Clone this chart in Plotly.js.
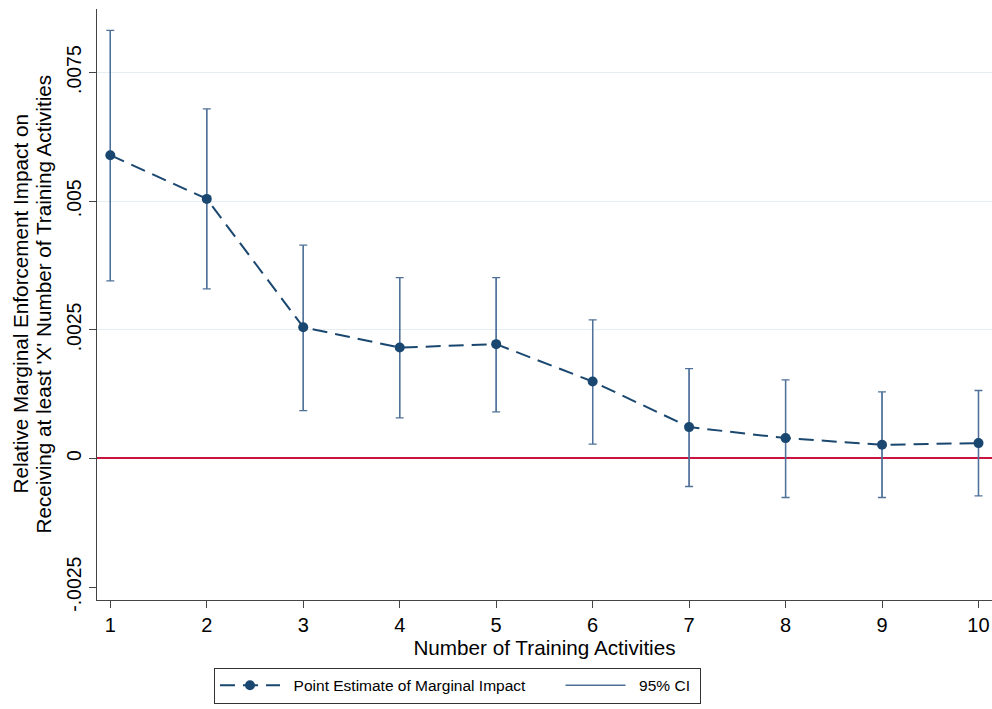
<!DOCTYPE html>
<html>
<head>
<meta charset="utf-8">
<script src="https://cdn.plot.ly/plotly-3.0.1.min.js"></script>
<style>html,body{margin:0;padding:0;background:#fff;}#chart{width:992px;height:709px;}</style>
</head>
<body>
<div id="chart"></div>
<script>
const activities = [1, 2, 3, 4, 5, 6, 7, 8, 9, 10];
const pointEstimate = [0.005894, 0.005045, 0.002552, 0.002156, 0.002222, 0.001496, 0.000610, 0.000396, 0.000266, 0.000299];
const ciUpper = [0.008321, 0.006793, 0.004145, 0.003516, 0.003516, 0.002694, 0.001748, 0.001529, 0.001296, 0.001321];
const ciLower = [0.003452, 0.003297, 0.000932, 0.000791, 0.000907, 0.000280, -0.000544, -0.000758, -0.000758, -0.000725];
const yTickVals = [-0.0025, 0, 0.0025, 0.005, 0.0075];
const yTickText = ['-.0025', '0', '.0025', '.005', '.0075'];
const gridVals = [0.0025, 0.005, 0.0075];
const yTitleLines = ["Relative Marginal Enforcement Impact on", "Receiving at least 'X' Number of Training Activities"];
const seriesNames = ['Point Estimate of Marginal Impact', '95% CI'];

const navy = '#1a476f';
const ciColor = '#4f7199';
const FONT = 'Liberation Sans, Arial, Helvetica, sans-serif';
const sp = n => '\u00a0'.repeat(n);

const ciX = [], ciY = [];
activities.forEach((a, i) => { ciX.push(a, a, null); ciY.push(ciLower[i], ciUpper[i], null); });

const traces = [
  {x: [activities[0]], y: [pointEstimate[0]], yaxis: 'y2', type: 'scatter', mode: 'markers',
   marker: {opacity: 0}, showlegend: false, hoverinfo: 'skip'},
  {
    x: activities, y: pointEstimate, type: 'scatter', mode: 'markers',
    marker: {opacity: 0, size: 1},
    error_y: {type: 'data', symmetric: false,
      array: ciUpper.map((u, i) => u - pointEstimate[i]),
      arrayminus: pointEstimate.map((p, i) => p - ciLower[i]),
      color: ciColor, thickness: 1.3, width: 4},
    showlegend: false, hoverinfo: 'skip'
  },
  {
    x: ciX, y: ciY, type: 'scatter', mode: 'lines', name: sp(2) + seriesNames[1] + sp(1),
    line: {color: ciColor, width: 1.3}, legendrank: 2, connectgaps: false
  },
  {
    x: activities, y: pointEstimate, type: 'scatter', mode: 'lines+markers',
    name: sp(2) + seriesNames[0] + sp(7),
    line: {color: navy, width: 2, dash: '15px,8px'},
    marker: {color: navy, size: 10}, legendrank: 1
  }
];

const plotL = 97, plotW = 895;
const yRange = [-0.00275, 0.008735];
const layout = {
  width: 992, height: 709,
  paper_bgcolor: '#ffffff', plot_bgcolor: '#ffffff',
  font: {family: FONT, size: 20, color: '#000'},
  margin: {l: plotL, r: 0, t: 9, b: 109},
  showlegend: true,
  legend: {
    orientation: 'h', x: (214 - plotL) / plotW, xanchor: 'left', y: -0.1145, yanchor: 'top',
    bordercolor: '#333', borderwidth: 1, bgcolor: '#fff',
    font: {family: FONT, size: 15.5, color: '#000'},
    itemwidth: 60
  },
  xaxis: {
    range: [0.862, 10.14], tickvals: activities, ticks: 'outside', ticklen: 7,
    tickcolor: '#444', showline: true, linecolor: '#444', linewidth: 1.3,
    showgrid: false, zeroline: false,
    tickfont: {family: FONT, size: 20, color: '#000'},
    title: {text: 'Number of Training Activities', font: {family: FONT, size: 20.7, color: '#000'}, standoff: 3}
  },
  yaxis: {
    range: yRange, tickvals: yTickVals, ticktext: yTickText, tickangle: -90,
    ticks: 'outside', ticklen: 7, tickcolor: '#444',
    showline: true, linecolor: '#444', linewidth: 1.3, showgrid: false,
    zeroline: true, zerolinecolor: '#c8143f', zerolinewidth: 2,
    tickfont: {family: FONT, size: 19.5, color: '#000'}
  },
  yaxis2: {
    range: yRange, overlaying: 'y', tickvals: gridVals, showticklabels: false,
    showgrid: true, gridcolor: '#e6eef1', gridwidth: 1.3, zeroline: false, ticks: '', showline: false,
    layer: 'below traces'
  },
  annotations: yTitleLines.map((t, i) => ({
    text: t, textangle: -90, xref: 'paper', yref: 'paper',
    x: ((i === 0 ? 20 : 43) - plotL) / plotW, y: 0.5, xanchor: 'center', yanchor: 'middle',
    showarrow: false, font: {family: FONT, size: 20.7, color: '#000'}
  }))
};

Plotly.newPlot('chart', traces, layout, {displayModeBar: false, staticPlot: true});
</script>
</body>
</html>
